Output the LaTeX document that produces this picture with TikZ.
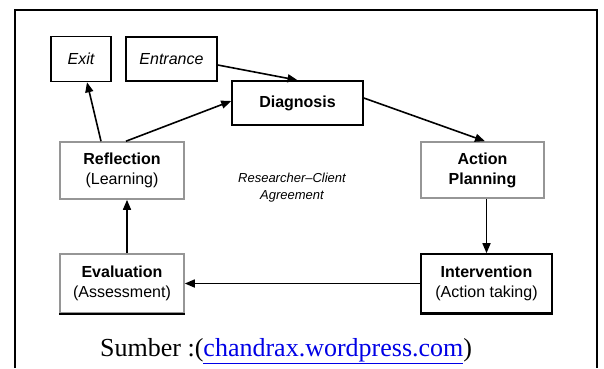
\documentclass[tikz,border=0pt]{standalone}
\usepackage{fontspec}
\setmainfont{Liberation Sans}
\newfontfamily\capfont{Liberation Serif}
\usetikzlibrary{arrows.meta,calc}
\definecolor{linkblue}{RGB}{0,0,230}
\definecolor{boxgray}{RGB}{150,150,150}
\tikzset{
  box/.style={draw=black, line width=1.6pt, rectangle, inner sep=0pt, align=center,
    font=\fontsize{16}{20}\selectfont},
  graybox/.style={box, draw=boxgray},
  arr/.style={line width=1.6pt, -{Triangle[length=10pt,width=8pt]}},
}
\begin{document}
\begin{tikzpicture}[x=1pt,y=-1pt]
\useasboundingbox (0,0) rectangle (604,368);
\fill[white] (0,0) rectangle (604,368);
% outer frame
\draw[line width=2.2pt] (15,368) -- (15,10) -- (597,10) -- (597,368);

\node[box, minimum width=60pt, minimum height=45pt] (exit) at (81,59) {\itshape Exit};
\node[box, minimum width=91pt, minimum height=44pt] (entr) at (171.5,59) {\itshape Entrance};
\node[box, minimum width=131pt, minimum height=44pt] (diag) at (297.5,103) {\bfseries Diagnosis};
\node[graybox, minimum width=123pt, minimum height=56pt] (ap) at (482.5,170) {\bfseries Action\\\bfseries Planning};
\node[box, minimum width=131pt, minimum height=59pt] (int) at (486.5,283.5) {\bfseries Intervention\\(Action taking)};
\node[graybox, minimum width=124pt, minimum height=59pt] (eval) at (122,283.5) {\bfseries Evaluation\\(Assessment)};
\node[graybox, minimum width=124pt, minimum height=57pt] (refl) at (122,170.5) {\bfseries Reflection\\(Learning)};

% darker bottom edges
\draw[line width=2.4pt] (eval.south west) -- (eval.south east);
\draw[line width=2.4pt] (int.south west) -- (int.south east);

\node[align=center, font=\fontsize{13}{17}\selectfont\itshape] (agree) at (292,188)
  {Researcher–Client\\Agreement};

% connectors
\draw[arr] ([yshift=-6pt]entr.east) -- (diag.north);
\draw[arr] ([xshift=4pt]refl.north) -- ([yshift=2pt]diag.west);
\draw[arr] ([xshift=-21pt]refl.north) -- ([xshift=6pt]exit.south);
\draw[arr] ([yshift=5pt]diag.east) -- ([xshift=2.5pt]ap.north);
\draw[arr] (ap.south -| int.north) -- (int.north);
\draw[arr] (int.west) -- (eval.east);
\draw[arr] ([xshift=5pt]eval.north) -- ([xshift=5pt]refl.south);

% caption
\node[anchor=base west, inner sep=0pt, font=\capfont\fontsize{26}{30}\selectfont] (cap) at (100,356)
  {Sumber :(\textcolor{linkblue}{\underline{chandrax.wordpress.com}})};
\end{tikzpicture}
\end{document}
